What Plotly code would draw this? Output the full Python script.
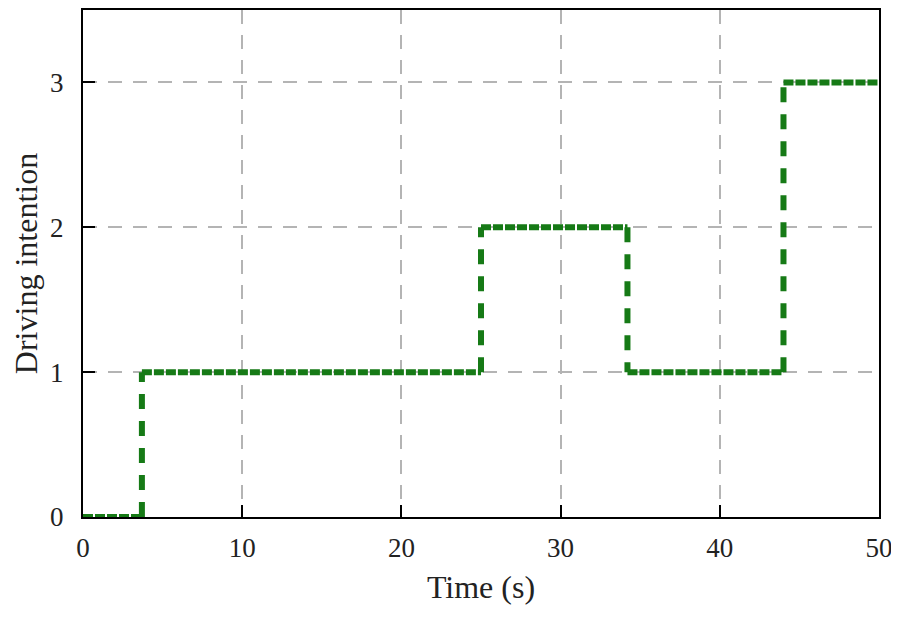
import plotly.graph_objects as go

# Data: driving intention as a step function of time
switch_times = [0, 3.7, 25, 34.2, 44, 50]
intention = [0, 1, 2, 1, 3, 3]

x_ticks = [0, 10, 20, 30, 40, 50]
y_ticks = [0, 1, 2, 3]

# horizontal segments
hx, hy = [], []
for i in range(len(switch_times) - 1):
    hx += [switch_times[i], switch_times[i + 1], None]
    hy += [intention[i], intention[i], None]

# vertical segments
vx, vy = [], []
for i in range(len(switch_times) - 1):
    if intention[i + 1] != intention[i]:
        vx += [switch_times[i + 1], switch_times[i + 1], None]
        vy += [intention[i], intention[i + 1], None]

green = "#167a16"
fig = go.Figure()
fig.add_trace(go.Scatter(x=hx, y=hy, mode="lines",
                         line=dict(color=green, width=6, dash="10px,2px"),
                         showlegend=False, hoverinfo="skip"))
fig.add_trace(go.Scatter(x=vx, y=vy, mode="lines",
                         line=dict(color=green, width=6, dash="15px,12px"),
                         showlegend=False, hoverinfo="skip"))

font = dict(family="Liberation Serif, Times New Roman, serif", size=27, color="#222")
grid = dict(showgrid=True, gridcolor="#b4b4b4", gridwidth=1.5, griddash="14px,11px")
fig.update_layout(
    width=891, height=610,
    margin=dict(l=75, r=20, t=0, b=101),
    paper_bgcolor="white", plot_bgcolor="white",
    font=font,
    xaxis=dict(range=[0, 50], tickvals=x_ticks, ticks="inside", ticklen=12, tickwidth=2,
               tickcolor="black", showline=True, linecolor="black", linewidth=2,
               mirror=True, zeroline=False, ticklabelstandoff=6,
               title=dict(text="Time (s)", standoff=13), **grid),
    yaxis=dict(range=[0, 3.5], tickvals=y_ticks, ticks="inside", ticklen=12, tickwidth=2,
               tickcolor="black", showline=True, linecolor="black", linewidth=2,
               mirror=True, zeroline=False, ticklabelstandoff=12,
               title=dict(text="Driving intention", standoff=7), **grid),
)
fig.write_html("out.html")
